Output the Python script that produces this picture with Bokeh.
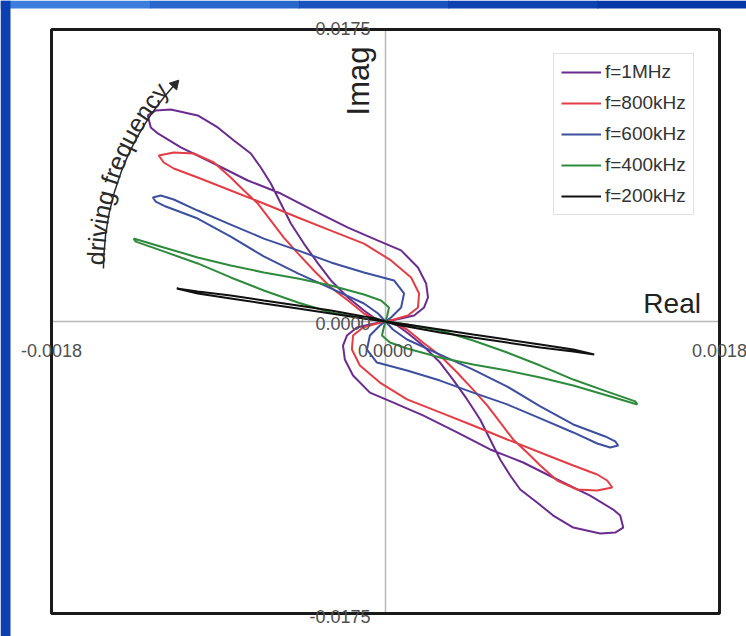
import math
from bokeh.plotting import figure
from bokeh.models import Range1d, Label
from bokeh.embed import file_html
from bokeh.resources import INLINE
from bokeh.core.properties import value

FONT = "Liberation Sans"

# ---------------- data (Real, Imag) ----------------
labels = ["f=1MHz", "f=800kHz", "f=600kHz", "f=400kHz", "f=200kHz"]
colors = ["#6a2c8e", "#e33d45", "#3d4f9f", "#2e8a3c", "#111111"]

re_1mhz = [0, 0.000084, 0.000154, 0.000208, 0.000229, 0.000219, 0.000175, 0.000084, -0.000040, -0.000202,
           -0.000386, -0.000564, -0.000742, -0.000925, -0.001103, -0.001227, -0.001265, -0.001281, -0.001238,
           -0.001157, -0.001012, -0.000904, -0.000817, -0.000726, -0.000672, -0.000618, -0.000564, -0.000510,
           -0.000440, -0.000364, -0.000294, -0.000202, -0.000116, -0.000040, 0,
           0.000040, 0.000116, 0.000202, 0.000294, 0.000364, 0.000440, 0.000510, 0.000564, 0.000618, 0.000672,
           0.000726, 0.000817, 0.000904, 0.001012, 0.001157, 0.001238, 0.001281, 0.001265, 0.001227, 0.001103,
           0.000925, 0.000742, 0.000564, 0.000386, 0.000202, 0.000040, -0.000084, -0.000175, -0.000219,
           -0.000229, -0.000208, -0.000154, -0.000084, 0]
im_1mhz = [0, 0.00018, 0.00036, 0.00084, 0.00144, 0.00228, 0.00324, 0.00426, 0.00485, 0.00563, 0.00665,
           0.00767, 0.00845, 0.00947, 0.01043, 0.01127, 0.01163, 0.01235, 0.01265, 0.01271, 0.01235, 0.01163,
           0.01085, 0.01007, 0.00923, 0.00827, 0.00707, 0.00587, 0.00467, 0.00348, 0.00246, 0.00144, 0.00066,
           0.00006, 0,
           -0.00006, -0.00066, -0.00144, -0.00246, -0.00348, -0.00467, -0.00587, -0.00707, -0.00827, -0.00923,
           -0.01007, -0.01085, -0.01163, -0.01235, -0.01271, -0.01265, -0.01235, -0.01163, -0.01127, -0.01043,
           -0.00947, -0.00845, -0.00767, -0.00665, -0.00563, -0.00485, -0.00426, -0.00324, -0.00228, -0.00144,
           -0.00084, -0.00036, -0.00018, 0]

re_800k = [0, 0.000046, 0.000121, 0.000175, 0.000181, 0.000138, 0.000030, -0.000116, -0.000294, -0.000472,
           -0.000656, -0.000834, -0.001012, -0.001141, -0.001195, -0.001222, -0.001141, -0.001033, -0.000925,
           -0.000834, -0.000763, -0.000688, -0.000618, -0.000548, -0.000472, -0.000386, -0.000294, -0.000202,
           -0.000116, -0.000040, 0,
           0.000040, 0.000116, 0.000202, 0.000294, 0.000386, 0.000472, 0.000548, 0.000618, 0.000688, 0.000763,
           0.000834, 0.000925, 0.001033, 0.001141, 0.001222, 0.001195, 0.001141, 0.001012, 0.000834, 0.000656,
           0.000472, 0.000294, 0.000116, -0.000030, -0.000138, -0.000181, -0.000175, -0.000121, -0.000046, 0]
im_800k = [0, 0.00012, 0.00036, 0.00084, 0.00168, 0.00264, 0.00366, 0.00467, 0.00545, 0.00623, 0.00707,
           0.00785, 0.00863, 0.00917, 0.00953, 0.00995, 0.01013, 0.01007, 0.00953, 0.00863, 0.00785, 0.00707,
           0.00605, 0.00503, 0.00408, 0.00306, 0.00204, 0.00126, 0.00048, 0.00006, 0,
           -0.00006, -0.00048, -0.00126, -0.00204, -0.00306, -0.00408, -0.00503, -0.00605, -0.00707, -0.00785,
           -0.00863, -0.00953, -0.01007, -0.01013, -0.00995, -0.00953, -0.00917, -0.00863, -0.00785, -0.00707,
           -0.00623, -0.00545, -0.00467, -0.00366, -0.00264, -0.00168, -0.00084, -0.00036, -0.00012, 0]

re_600k = [0, 0.000030, 0.000084, 0.000100, 0.000046, -0.000116, -0.000294, -0.000472, -0.000656, -0.000834,
           -0.001012, -0.001141, -0.001211, -0.001254, -0.001238, -0.001184, -0.001012, -0.000834, -0.000656,
           -0.000472, -0.000294, -0.000116, -0.000040, 0,
           0.000040, 0.000116, 0.000294, 0.000472, 0.000656, 0.000834, 0.001012, 0.001184, 0.001238, 0.001254,
           0.001211, 0.001141, 0.001012, 0.000834, 0.000656, 0.000472, 0.000294, 0.000116, -0.000046, -0.000100,
           -0.000084, -0.000030, 0]
im_600k = [0, 0.00024, 0.00084, 0.00168, 0.00246, 0.00294, 0.00354, 0.00426, 0.00497, 0.00581, 0.00665,
           0.00731, 0.00755, 0.00743, 0.00719, 0.00689, 0.00617, 0.00509, 0.00390, 0.00288, 0.00198, 0.00108,
           0.00048, 0,
           -0.00048, -0.00108, -0.00198, -0.00288, -0.00390, -0.00509, -0.00617, -0.00689, -0.00719, -0.00743,
           -0.00755, -0.00731, -0.00665, -0.00581, -0.00497, -0.00426, -0.00354, -0.00294, -0.00246, -0.00168,
           -0.00084, -0.00024, 0]

re_400k = [0, 0.000008, 0.000019, -0.000024, -0.000116, -0.000294, -0.000472, -0.000656, -0.000834, -0.001012,
           -0.001195, -0.001357, -0.001346, -0.001195, -0.001012, -0.000834, -0.000656, -0.000472, -0.000294,
           -0.000116, 0,
           0.000116, 0.000294, 0.000472, 0.000656, 0.000834, 0.001012, 0.001195, 0.001346, 0.001357, 0.001195,
           0.001012, 0.000834, 0.000656, 0.000472, 0.000294, 0.000116, 0.000024, -0.000019, -0.000008, 0]
im_400k = [0, 0.00030, 0.00084, 0.00126, 0.00162, 0.00216, 0.00258, 0.00294, 0.00336, 0.00384, 0.00443,
           0.00497, 0.00479, 0.00420, 0.00348, 0.00264, 0.00186, 0.00114, 0.00054, 0.00018, 0,
           -0.00018, -0.00054, -0.00114, -0.00186, -0.00264, -0.00348, -0.00420, -0.00479, -0.00497, -0.00443,
           -0.00384, -0.00336, -0.00294, -0.00258, -0.00216, -0.00162, -0.00126, -0.00084, -0.00030, 0]

re_200k = [0, -0.000051, -0.000116, -0.000294, -0.000472, -0.000656, -0.000834, -0.001012, -0.001125, -0.001012,
           -0.000834, -0.000656, -0.000472, -0.000294, -0.000116, 0,
           0.000116, 0.000294, 0.000472, 0.000656, 0.000834, 0.001012, 0.001125, 0.001012, 0.000834, 0.000656,
           0.000472, 0.000294, 0.000116, 0.000051, 0]
im_200k = [0, 0.00018, 0.00030, 0.00066, 0.00096, 0.00126, 0.00156, 0.00180, 0.00198, 0.00168, 0.00138,
           0.00108, 0.00078, 0.00048, 0.00018, 0,
           -0.00018, -0.00048, -0.00078, -0.00108, -0.00138, -0.00168, -0.00198, -0.00180, -0.00156, -0.00126,
           -0.00096, -0.00066, -0.00030, -0.00018, 0]

series = [(re_1mhz, im_1mhz), (re_800k, im_800k), (re_600k, im_600k), (re_400k, im_400k), (re_200k, im_200k)]

x_ticks = [-0.0018, 0.0, 0.0018]
x_tick_labels = ["-0.0018", "0.0000", "0.0018"]
y_ticks = [0.0175, 0.0, -0.0175]
y_tick_labels = ["0.0175", "0.0000", "-0.0175"]

XMIN, XMAX, YMIN, YMAX = -0.0018, 0.0018, -0.0175, 0.0175

# ---------------- layout geometry (window pixels) ----------------
OX, OY = 0, 0
FW, FH = 746, 636
BOX_L, BOX_R, BOX_T, BOX_B = 51, 719, 29, 613
sxp = (XMAX - XMIN) / (BOX_R - BOX_L)
syp = (YMAX - YMIN) / (BOX_B - BOX_T)
XR0 = XMIN - (BOX_L - OX) * sxp
XR1 = XR0 + FW * sxp
YR1 = YMAX + (BOX_T - OY) * syp
YR0 = YR1 - FH * syp


def px2data(px, py):
    return (XR0 + (px - OX) * sxp, YR1 - (py - OY) * syp)


p = figure(width=FW, height=FH, output_backend="svg", toolbar_location=None,
           x_range=Range1d(XR0, XR1), y_range=Range1d(YR0, YR1),
           x_axis_location=None, y_axis_location=None,
           min_border=0, min_border_left=0, min_border_right=0, min_border_top=0, min_border_bottom=0,
           background_fill_color="white", border_fill_color="white")
p.xgrid.grid_line_color = None
p.ygrid.grid_line_color = None
p.outline_line_color = None

# slide background strips (top and left, blue)
strip_cols = ["#3d7edc", "#2a67cc", "#1a52bd", "#0d42b0", "#0537a6"]
for i, c in enumerate(strip_cols):
    l, t = px2data(OX + i * FW / len(strip_cols), OY)
    r, b = px2data(OX + (i + 1) * FW / len(strip_cols) + 1, 8)
    p.quad(left=l, right=r, top=t, bottom=b, fill_color=c, line_color=None)
l, t = px2data(OX, OY)
r, b = px2data(10, OY + FH)
p.quad(left=l, right=r, top=t, bottom=b, fill_color="#0b40b2", line_color=None)

# axis lines through the origin
p.segment(x0=[XMIN, 0], y0=[0, YMIN], x1=[XMAX, 0], y1=[0, YMAX], line_color="#b8b8b8", line_width=1.5)

# chart box
p.quad(left=XMIN, right=XMAX, bottom=YMIN, top=YMAX, fill_color=None, line_color="#1a1a1a", line_width=3)

for (xs, ys), c, lab in zip(series, colors, labels):
    p.line(xs, ys, line_color=c, line_width=2, legend_label=lab)

# tick labels
for xv, t in zip(x_ticks, x_tick_labels):
    p.add_layout(Label(x=xv, y=0, text=t, y_offset=-29, text_align="center", text_baseline="middle",
                       text_font=FONT, text_font_size="18px", text_color="#505050"))
y_offs = {0.0175: 1, 0.0: -2, -0.0175: -3}
for yv, t in zip(y_ticks, y_tick_labels):
    p.add_layout(Label(x=0, y=yv, text=t, x_offset=-15, y_offset=y_offs[yv],
                       text_align="right", text_baseline="middle",
                       text_font=FONT, text_font_size="18px", text_color="#505050"))

# axis titles
p.add_layout(Label(x=0.0017, y=0, text="Real", y_offset=18, text_align="right", text_baseline="middle",
                   text_font=FONT, text_font_size="28px", text_color="#222222"))
p.add_layout(Label(x=0, y=0.01235, text="Imag", x_offset=-27, angle=math.pi / 2, text_align="left",
                   text_baseline="middle", text_font=FONT, text_font_size="31px", text_color="#222222"))

# legend
lg = p.legend[0]
lg.location = (553 - OX, (OY + FH) - 215)
lg.label_text_font = FONT
lg.label_text_font_size = "19px"
lg.label_text_color = "#333333"
lg.glyph_width = 40
lg.glyph_height = 20
lg.label_height = 20
lg.label_standoff = 4
lg.spacing = 9
lg.padding = 7
lg.margin = 0
lg.border_line_color = "#c4c4c4"
lg.border_line_width = 1
lg.background_fill_color = "white"
lg.background_fill_alpha = 1

# ---------------- curved "driving frequency" annotation with arrow ----------------
ARC_CX, ARC_CY, ARC_R = 376.0, 268.0, 273.0
FS = 25
TXT_R = ARC_R + 8
adv = {"d": .556, "r": .333, "i": .222, "v": .5, "n": .556, "g": .556, " ": .278, "f": .278,
       "e": .556, "q": .556, "u": .556, "c": .5, "y": .5}
txt = "driving frequency"
cx_, cy_, ca_, ct_ = [], [], [], []
s = 3.0
for ch in txt:
    w = adv[ch] * FS
    th = math.pi - (s + w / 2) / ARC_R
    sx = ARC_CX + TXT_R * math.cos(th)
    sy = ARC_CY - TXT_R * math.sin(th)
    dx, dy = px2data(sx, sy)
    cx_.append(dx); cy_.append(dy); ca_.append(th - math.pi / 2); ct_.append(ch)
    s += w
p.text(x=cx_, y=cy_, text=ct_, angle=ca_, text_font=value(FONT), text_font_size=value(f"{FS}px"),
       text_align=value("center"), text_baseline=value("middle"), text_color="#2a2a2a")

S_TIP = 206.0
cdx, cdy = px2data(ARC_CX, ARC_CY)
p.arc(x=[cdx], y=[cdy], radius=ARC_R, radius_units="screen",
      start_angle=math.pi - (S_TIP - 6) / ARC_R, end_angle=math.pi,
      line_color="#2a2a2a", line_width=1.5)
th_h = math.pi - (S_TIP - 4) / ARC_R
hx, hy = px2data(ARC_CX + ARC_R * math.cos(th_h), ARC_CY - ARC_R * math.sin(th_h))
p.scatter(x=[hx], y=[hy], marker="triangle", size=10, angle=th_h - math.pi,
          fill_color="#2a2a2a", line_color="#2a2a2a")

open("out.html", "w").write(file_html(p, INLINE))
